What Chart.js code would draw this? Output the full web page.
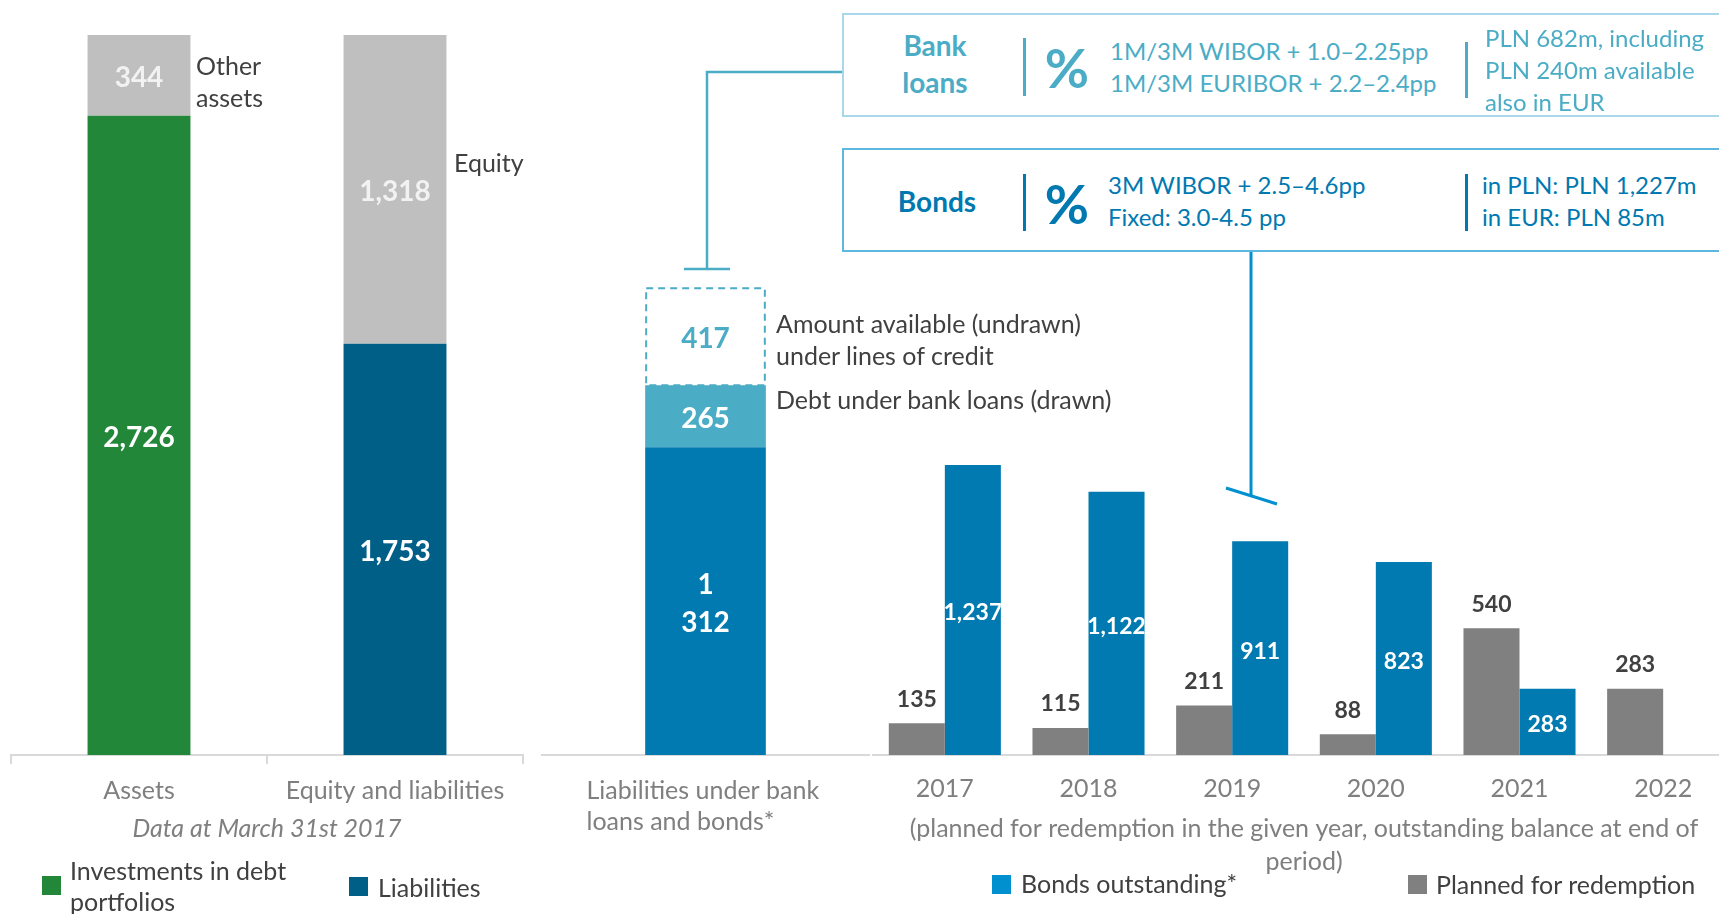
<!DOCTYPE html>
<html>
<head>
<meta charset="utf-8">
<title>Assets, liabilities and debt</title>
<script src="https://cdn.jsdelivr.net/npm/chart.js@4.4.1/dist/chart.umd.min.js"></script>
<style>
  html, body { margin: 0; padding: 0; overflow: hidden; background: #fff; }
  body { width: 1719px; height: 914px; position: relative; font-family: Lato, "Open Sans", sans-serif; color: #404040; }
  canvas { position: absolute; top: 0; }
  .txt { position: absolute; white-space: nowrap; font-size: 25px; line-height: 32px; }
  .box .txt, .inbox { font-size: 24px; }
  .box { position: absolute; box-sizing: border-box; background: #fff; width: 920px; height: 104px; left: 842px; }
  .sep { position: absolute; width: 3px; }
  .sq { position: absolute; width: 19px; height: 19px; }
  .head { position: absolute; width: 124px; text-align: center; font-weight: bold; font-size: 28px; line-height: 37px; }
  .pct { position: absolute; width: 64px; text-align: center; font-weight: bold; font-size: 54px; line-height: 60px; left: 1035px; }
</style>
</head>
<body>
<canvas id="balance" width="540" height="914" style="left:0"></canvas>
<canvas id="debt" width="560" height="914" style="left:530px"></canvas>
<canvas id="maturity" width="900" height="914" style="left:860px"></canvas>

<!-- notes next to the bars -->
<div class="txt" style="left:196px;top:49px">Other<br>assets</div>
<div class="txt" style="left:454px;top:146px">Equity</div>
<div class="txt" style="left:776px;top:307px">Amount available (undrawn)<br>under lines of credit</div>
<div class="txt" style="left:776px;top:383px">Debt under bank loans (drawn)</div>

<!-- bank loans box -->
<div class="box" style="top:13px;border:2px solid #a8d8ea"></div>
<div class="head" style="left:873px;top:27px;color:#4bacc6">Bank<br>loans</div>
<div class="sep" style="left:1023px;top:38px;height:58px;background:#4bacc6"></div>
<div class="pct" style="top:38px;color:#4bacc6">%</div>
<div class="txt inbox" style="left:1110px;top:35px;color:#4bacc6">1M/3M WIBOR + 1.0–2.25pp<br>1M/3M EURIBOR + 2.2–2.4pp</div>
<div class="sep" style="left:1465px;top:42px;height:56px;background:#4bacc6"></div>
<div class="txt inbox" style="left:1485px;top:22px;color:#4bacc6">PLN 682m, including<br>PLN 240m available<br>also in EUR</div>

<!-- bonds box -->
<div class="box" style="top:148px;border:2px solid #5cb8e0"></div>
<div class="head" style="left:875px;top:183px;color:#0079b0">Bonds</div>
<div class="sep" style="left:1023px;top:174px;height:57px;background:#0079b0"></div>
<div class="pct" style="top:174px;color:#0079b0">%</div>
<div class="txt inbox" style="left:1108px;top:169px;color:#0079b0">3M WIBOR + 2.5–4.6pp<br>Fixed: 3.0-4.5 pp</div>
<div class="sep" style="left:1465px;top:174px;height:57px;background:#0079b0"></div>
<div class="txt inbox" style="left:1482px;top:169px;color:#0079b0">in PLN: PLN 1,227m<br>in EUR: PLN 85m</div>

<svg width="1719" height="914" style="position:absolute;left:0;top:0">
  <polyline points="842,72 707,72 707,269" fill="none" stroke="#4bacc6" stroke-width="2.5"/>
  <line x1="684" y1="269" x2="730" y2="269" stroke="#4bacc6" stroke-width="2.5"/>
  <line x1="1251" y1="252" x2="1251" y2="496" stroke="#0090d0" stroke-width="3"/>
  <line x1="1226" y1="488" x2="1277" y2="504" stroke="#0090d0" stroke-width="3"/>
</svg>

<!-- legends -->
<div class="sq" style="left:42px;top:876px;background:#23873a"></div>
<div class="txt" style="left:70px;top:855px;line-height:31px">Investments in debt<br>portfolios</div>
<div class="sq" style="left:349px;top:877px;background:#005f87"></div>
<div class="txt" style="left:378px;top:871px">Liabilities</div>
<div class="sq" style="left:992px;top:875px;background:#0090d0"></div>
<div class="txt" style="left:1021px;top:867px">Bonds outstanding*</div>
<div class="sq" style="left:1408px;top:875px;background:#808080"></div>
<div class="txt" style="left:1436px;top:868px">Planned for redemption</div>

<script>
// same value range in all three panels, so heights compare
const Y_MAX = 3070;

// balance sheet, March 31st 2017
const balanceCats = ['Assets', 'Equity and liabilities'];
const debtPortfolios = [2726, null];
const otherAssets = [344, null];
const liabilities = [null, 1753];
const equity = [null, 1318];

// bank loans and bonds
const debtCats = [['Liabilities under bank', 'loans and bonds*']];
const bondsTotal = [1312];
const loansDrawn = [265];
const loansUndrawn = [417];

// bonds by year
const years = ['2017', '2018', '2019', '2020', '2021', '2022'];
const plannedRedemption = [135, 115, 211, 88, 540, 283];
const bondsOutstanding = [1237, 1122, 911, 823, 283, null];

const GREY_TXT = '#7f7f7f';
const tickFont = { family: 'Lato', size: 25, lineHeight: 1.26 };
const titleFont = { family: 'Lato', size: 25, lineHeight: 1.32 };

// numbers on the bars
const valueLabels = {
  id: 'valueLabels',
  afterDatasetsDraw(chart) {
    const ctx = chart.ctx;
    chart.data.datasets.forEach((ds, i) => {
      const lab = ds.valueLabel;
      if (!lab) return;
      chart.getDatasetMeta(i).data.forEach((bar, j) => {
        const v = ds.data[j];
        if (v == null) return;
        const txt = v.toLocaleString('en-US');
        const lines = lab.split ? txt.split(',') : [txt];
        const lh = lab.lineHeight || lab.size * 1.2;
        let y = lab.pos === 'top' ? bar.y - lab.gap : (bar.y + bar.base) / 2;
        y += 3 - (lines.length - 1) * lh / 2;
        ctx.save();
        if (lab.clip) {
          // long numbers get cut at the bar edges, like in the original
          ctx.beginPath();
          ctx.rect(bar.x - bar.width / 2, bar.y, bar.width, bar.base - bar.y);
          ctx.clip();
        }
        ctx.font = 'bold ' + lab.size + 'px Lato';
        ctx.fillStyle = lab.color;
        ctx.textAlign = 'center';
        ctx.textBaseline = 'middle';
        lines.forEach((t, k) => ctx.fillText(t, bar.x, y + k * lh));
        ctx.restore();
      });
    });
  }
};

// dashed outline for the undrawn credit line
const dashedBar = {
  id: 'dashedBar',
  afterDatasetsDraw(chart) {
    const ctx = chart.ctx;
    chart.data.datasets.forEach((ds, i) => {
      if (!ds.dashColor) return;
      chart.getDatasetMeta(i).data.forEach(bar => {
        const l = bar.x - bar.width / 2;
        ctx.save();
        ctx.setLineDash([7, 5]);
        ctx.strokeStyle = ds.dashColor;
        ctx.lineWidth = 2;
        ctx.strokeRect(l + 1, bar.y + 1, bar.width - 2, bar.base - bar.y - 1);
        ctx.restore();
      });
    });
  }
};

const noPlugins = { legend: { display: false }, tooltip: { enabled: false } };
const yAxis = stacked => ({ stacked: stacked, display: false, min: 0, max: Y_MAX });

new Chart(document.getElementById('balance'), {
  type: 'bar',
  data: {
    labels: balanceCats,
    datasets: [
      { data: debtPortfolios, backgroundColor: '#23873a', valueLabel: { size: 28, color: '#fff' } },
      { data: otherAssets, backgroundColor: '#bfbfbf', valueLabel: { size: 28, color: '#f2f2f2' } },
      { data: liabilities, backgroundColor: '#005f87', valueLabel: { size: 28, color: '#fff' } },
      { data: equity, backgroundColor: '#bfbfbf', valueLabel: { size: 28, color: '#f2f2f2' } }
    ]
  },
  options: {
    responsive: false, animation: false,
    layout: { padding: { left: 11, right: 17, top: 35, bottom: 0 } },
    datasets: { bar: { barPercentage: 0.402, categoryPercentage: 1 } },
    plugins: noPlugins,
    scales: {
      x: {
        stacked: true,
        grid: { drawOnChartArea: false, drawTicks: true, tickLength: 9, color: '#d9d9d9', lineWidth: 2 },
        border: { display: true, color: '#d9d9d9', width: 2 },
        ticks: { font: tickFont, color: GREY_TXT, padding: 10.75, maxRotation: 0 },
        title: { display: true, text: 'Data at March 31st 2017', color: GREY_TXT,
          font: Object.assign({ style: 'italic' }, titleFont), padding: { top: 0, bottom: 68.5 } },
        afterFit: s => { s.height = 159; }
      },
      y: yAxis(true)
    }
  },
  plugins: [valueLabels]
});

new Chart(document.getElementById('debt'), {
  type: 'bar',
  data: {
    labels: debtCats,
    datasets: [
      { data: bondsTotal, backgroundColor: '#007ab0',
        valueLabel: { size: 28, color: '#fff', split: true, lineHeight: 38.5 } },
      { data: loansDrawn, backgroundColor: '#4bacc6', valueLabel: { size: 28, color: '#fff' } },
      { data: loansUndrawn, backgroundColor: 'rgba(0,0,0,0)', dashColor: '#4bacc6',
        valueLabel: { size: 28, color: '#4bacc6' } }
    ]
  },
  options: {
    responsive: false, animation: false,
    layout: { padding: { left: 12, right: 221, top: 35, bottom: 0 } },
    datasets: { bar: { barPercentage: 0.369, categoryPercentage: 1 } },
    plugins: noPlugins,
    scales: {
      x: {
        stacked: true,
        grid: { display: false, drawTicks: false },
        border: { display: true, color: '#d9d9d9', width: 2 },
        ticks: { font: tickFont, color: GREY_TXT, padding: 19.75, align: 'start', labelOffset: -119, maxRotation: 0 },
        afterFit: s => { s.height = 159; }
      },
      y: yAxis(true)
    }
  },
  plugins: [dashedBar, valueLabels]
});

new Chart(document.getElementById('maturity'), {
  type: 'bar',
  data: {
    labels: years,
    datasets: [
      { data: plannedRedemption, backgroundColor: '#808080',
        valueLabel: { size: 23, color: '#404040', pos: 'top', gap: 27 } },
      { data: bondsOutstanding, backgroundColor: '#007ab0', valueLabel: { size: 23, color: '#fff', clip: true } }
    ]
  },
  options: {
    responsive: false, animation: false,
    layout: { padding: { left: 13, right: 25, top: 35, bottom: 0 } },
    datasets: { bar: { barPercentage: 1, categoryPercentage: 0.78 } },
    plugins: noPlugins,
    scales: {
      x: {
        grid: { display: false, drawTicks: false },
        border: { display: true, color: '#d9d9d9', width: 2 },
        ticks: { font: tickFont, color: GREY_TXT, padding: 18.65, maxRotation: 0 },
        title: { display: true, color: GREY_TXT, font: titleFont, padding: { top: 0, bottom: 35.5 },
          text: ['(planned for redemption in the given year, outstanding balance at end of', 'period)'] },
        afterFit: s => { s.height = 159; }
      },
      y: yAxis(false)
    }
  },
  plugins: [valueLabels]
});
</script>
</body>
</html>
